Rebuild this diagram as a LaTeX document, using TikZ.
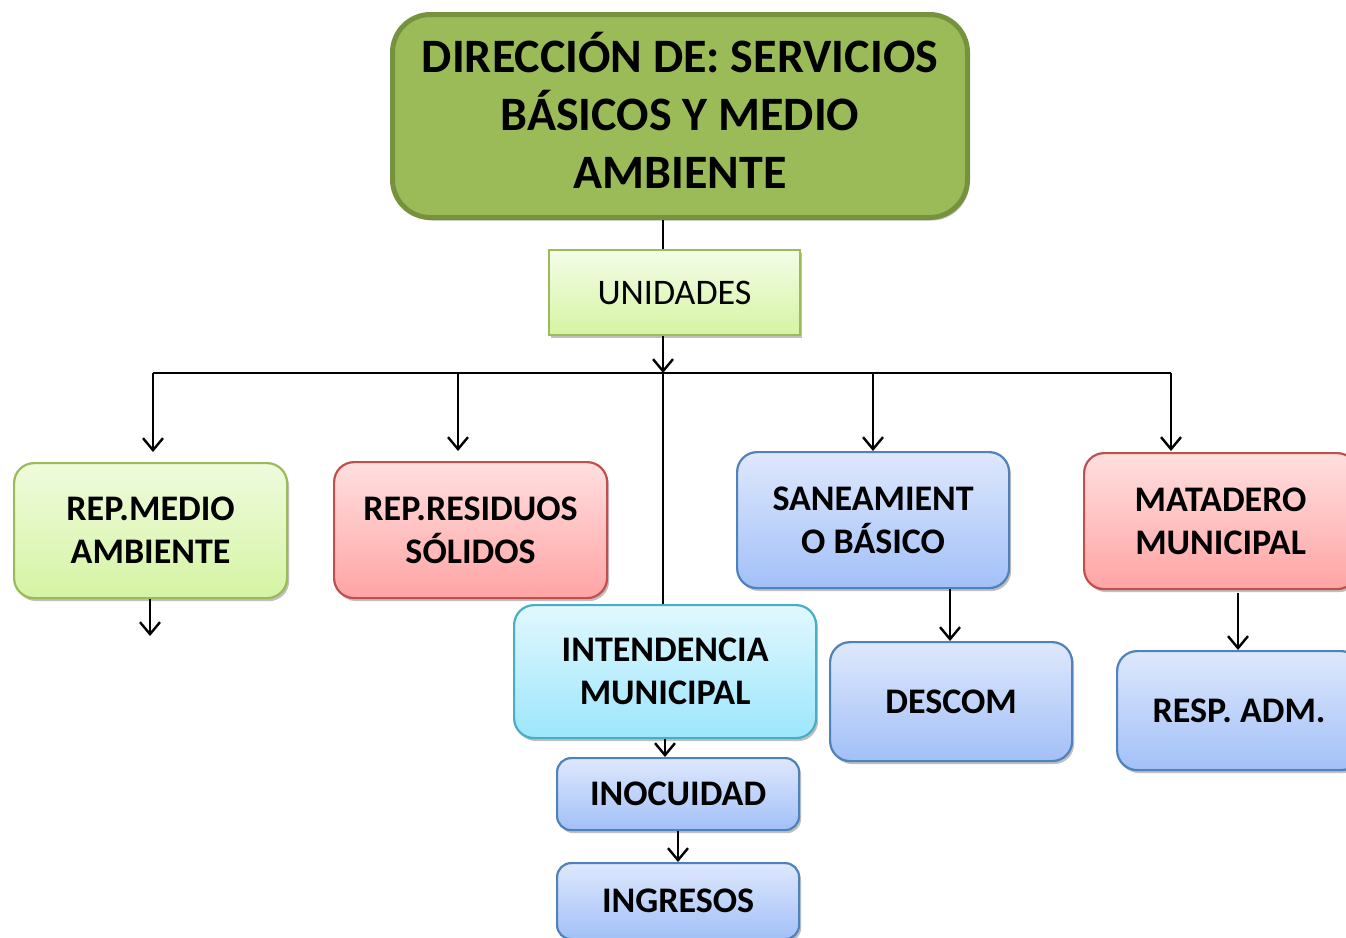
\documentclass[tikz,border=0pt]{standalone}
\usepackage{fontspec}
\setmainfont{Carlito}
\usetikzlibrary{arrows.meta,shadows}
\definecolor{topfill}{HTML}{9BBB59}
\definecolor{topdraw}{HTML}{76923C}
\definecolor{gtop}{HTML}{EFFBDD}
\definecolor{gbot}{HTML}{D5F4A3}
\definecolor{gdraw}{HTML}{9BBB59}
\definecolor{rtop}{HTML}{FFDFDF}
\definecolor{rbot}{HTML}{FFA4A4}
\definecolor{rdraw}{HTML}{C0504D}
\definecolor{btop}{HTML}{DEE8FC}
\definecolor{bbot}{HTML}{A2C0F8}
\definecolor{bdraw}{HTML}{4F81BD}
\definecolor{ctop}{HTML}{E1F8FE}
\definecolor{cbot}{HTML}{9CE6FB}
\definecolor{cdraw}{HTML}{4BACC6}
\tikzset{
  shade/.style={drop shadow={shadow xshift=2pt,shadow yshift=-3pt,opacity=0.25,fill=black}},
  unit/.style={shade,rounded corners=20pt,line width=2.2pt,anchor=north west,inner sep=0pt,align=center,
    font=\fontsize{36}{43}\selectfont\bfseries},
  gbox/.style={unit,draw=gdraw,top color=gtop,bottom color=gbot},
  rbox/.style={unit,draw=rdraw,top color=rtop,bottom color=rbot},
  bbox/.style={unit,draw=bdraw,top color=btop,bottom color=bbot},
  cbox/.style={unit,draw=cdraw,top color=ctop,bottom color=cbot},
  conn/.style={line width=2.6pt,black},
  arr/.style={conn,-{Straight Barb[length=12pt,width=20pt,line width=2.4pt]}},
}
\begin{document}
\begin{tikzpicture}[x=1pt,y=-1pt]
\useasboundingbox (0,0) rectangle (1346,937);
\clip (0,0) rectangle (1346,937);
% top box
\node[draw=topdraw,fill=topfill,line width=5pt,rounded corners=38pt,anchor=north west,
  minimum width=575pt,minimum height=203pt,inner sep=0pt,align=center,
  font=\fontsize{48}{58}\selectfont\bfseries,shade] (top) at (390,12)
  {DIRECCIÓN DE: SERVICIOS\\BÁSICOS Y MEDIO\\AMBIENTE\rule[-12pt]{0pt}{0pt}};
% unidades
\node[draw=gdraw,line width=2pt,top color=gtop!70!white,bottom color=gbot,anchor=north west,
  minimum width=251pt,minimum height=85pt,inner sep=0pt,shade,
  font=\fontsize{36}{40}\selectfont] (unid) at (548,249) {UNIDADES};
% level boxes
\node[gbox,minimum width=273pt,minimum height=135pt] (rma) at (13,462) {REP.MEDIO\\AMBIENTE};
\node[rbox,minimum width=273pt,minimum height=136pt] (rrs) at (333,461) {REP.RESIDUOS\\SÓLIDOS};
\node[bbox,minimum width=272pt,minimum height=136pt] (san) at (736,451) {SANEAMIENT\\O BÁSICO};
\node[rbox,minimum width=273pt,minimum height=136pt] (mat) at (1083,452) {MATADERO\\MUNICIPAL};
\node[cbox,minimum width=302pt,minimum height=133pt] (int) at (513,604) {INTENDENCIA\\MUNICIPAL};
\node[bbox,minimum width=242pt,minimum height=119pt] (des) at (829,641) {DESCOM};
\node[bbox,minimum width=244pt,minimum height=119pt] (resp) at (1116,650) {RESP. ADM.};
\node[bbox,rounded corners=14pt,minimum width=242pt,minimum height=72pt] (ino) at (556,757) {INOCUIDAD};
\node[bbox,rounded corners=14pt,minimum width=242pt,minimum height=76pt] (ing) at (556,862) {INGRESOS};
% bus coordinates
\coordinate (hub) at (663,373);
\coordinate (b1) at (153,373);
\coordinate (b2) at (458,373);
\coordinate (b3) at (873,373);
\coordinate (b4) at (1171,373);
\coordinate (rmaend) at (150,636);
\coordinate (dx) at (950,641);
\coordinate (rx) at (1238,593);
\coordinate (ix) at (665,737);
\coordinate (gx) at (678,829);
% connectors
\draw[conn] (top.south -| hub) -- (unid.north -| hub);
\draw[arr] (unid.south -| hub) -- (hub);
\draw[conn] (b1) -- (b4);
\draw[conn] (hub) -- (int.north -| hub);
\draw[arr,shorten >=10pt] (b1) -- (b1 |- rma.north);
\draw[arr,shorten >=10pt] (b2) -- (b2 |- rrs.north);
\draw[arr] (b3) -- (b3 |- san.north);
\draw[arr,shorten >=1pt] (b4) -- (b4 |- mat.north);
\draw[arr] (rmaend |- rma.south) -- (rmaend);
\draw[arr] (dx |- san.south) -- (dx |- des.north);
\draw[arr] (rx) -- (rx |- resp.north);
\draw[arr] (ix |- int.south) -- (ix |- ino.north);
\draw[arr] (gx |- ino.south) -- (gx |- ing.north);
\end{tikzpicture}
\end{document}
